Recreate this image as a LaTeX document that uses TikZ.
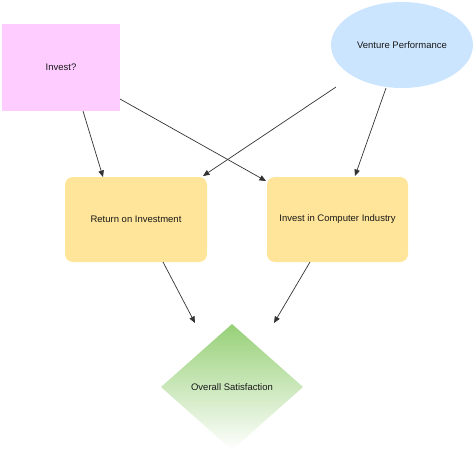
\documentclass[tikz,border=0pt]{standalone}
\usepackage{fontspec}
\setmainfont{Liberation Sans}
\usetikzlibrary{arrows.meta,shapes.geometric}
\definecolor{pinkfill}{HTML}{FFCCFF}
\definecolor{bluefill}{HTML}{CCE5FF}
\definecolor{yellowfill}{HTML}{FFE599}
\definecolor{greenfill}{HTML}{97D077}
\definecolor{linecol}{HTML}{333333}
\tikzset{
  lbl/.style={font=\fontsize{9.5}{11}\selectfont, text=black!90},
  conn/.style={draw=linecol, line width=0.7pt, -{Triangle[length=6.5pt,width=5.5pt]}},
}
\begin{document}
\begin{tikzpicture}[x=1pt,y=-1pt]
\useasboundingbox (0,0) rectangle (474,451);
% nodes
\node[fill=pinkfill, minimum width=118pt, minimum height=87pt, inner sep=0pt, lbl] (inv) at (61,67.5) {Invest?};
\node[ellipse, fill=bluefill, minimum width=142pt, minimum height=86pt, inner sep=0pt, lbl] (vp) at (402,45) {Venture Performance};
\node[fill=yellowfill, rounded corners=8pt, minimum width=142pt, minimum height=85pt, inner sep=0pt, lbl] (roi) at (136,219.5) {Return on Investment};
\node[fill=yellowfill, rounded corners=8pt, minimum width=141pt, minimum height=85pt, inner sep=0pt, lbl] (ici) at (337.5,219.5) {Invest in Computer Industry};
\shade[top color=greenfill, bottom color=white, shading angle=0] (232,324) -- (303,387) -- (232,450) -- (161,387) -- cycle;
\node[lbl] (os) at (232,387) {Overall Satisfaction};
% connector endpoints
\coordinate (a1s) at (83,111);   \coordinate (a1e) at (103,177);
\coordinate (a2s) at (120,99);   \coordinate (a2e) at (266,181);
\coordinate (a3s) at (336,87);   \coordinate (a3e) at (203,176);
\coordinate (a4s) at (386,88);   \coordinate (a4e) at (355,176);
\coordinate (a5s) at (163,262);  \coordinate (a5e) at (195,323);
\coordinate (a6s) at (310,262);  \coordinate (a6e) at (274,323);
\draw[conn] (a1s) -- (a1e);
\draw[conn] (a2s) -- (a2e);
\draw[conn] (a3s) -- (a3e);
\draw[conn] (a4s) -- (a4e);
\draw[conn] (a5s) -- (a5e);
\draw[conn] (a6s) -- (a6e);
\end{tikzpicture}
\end{document}
